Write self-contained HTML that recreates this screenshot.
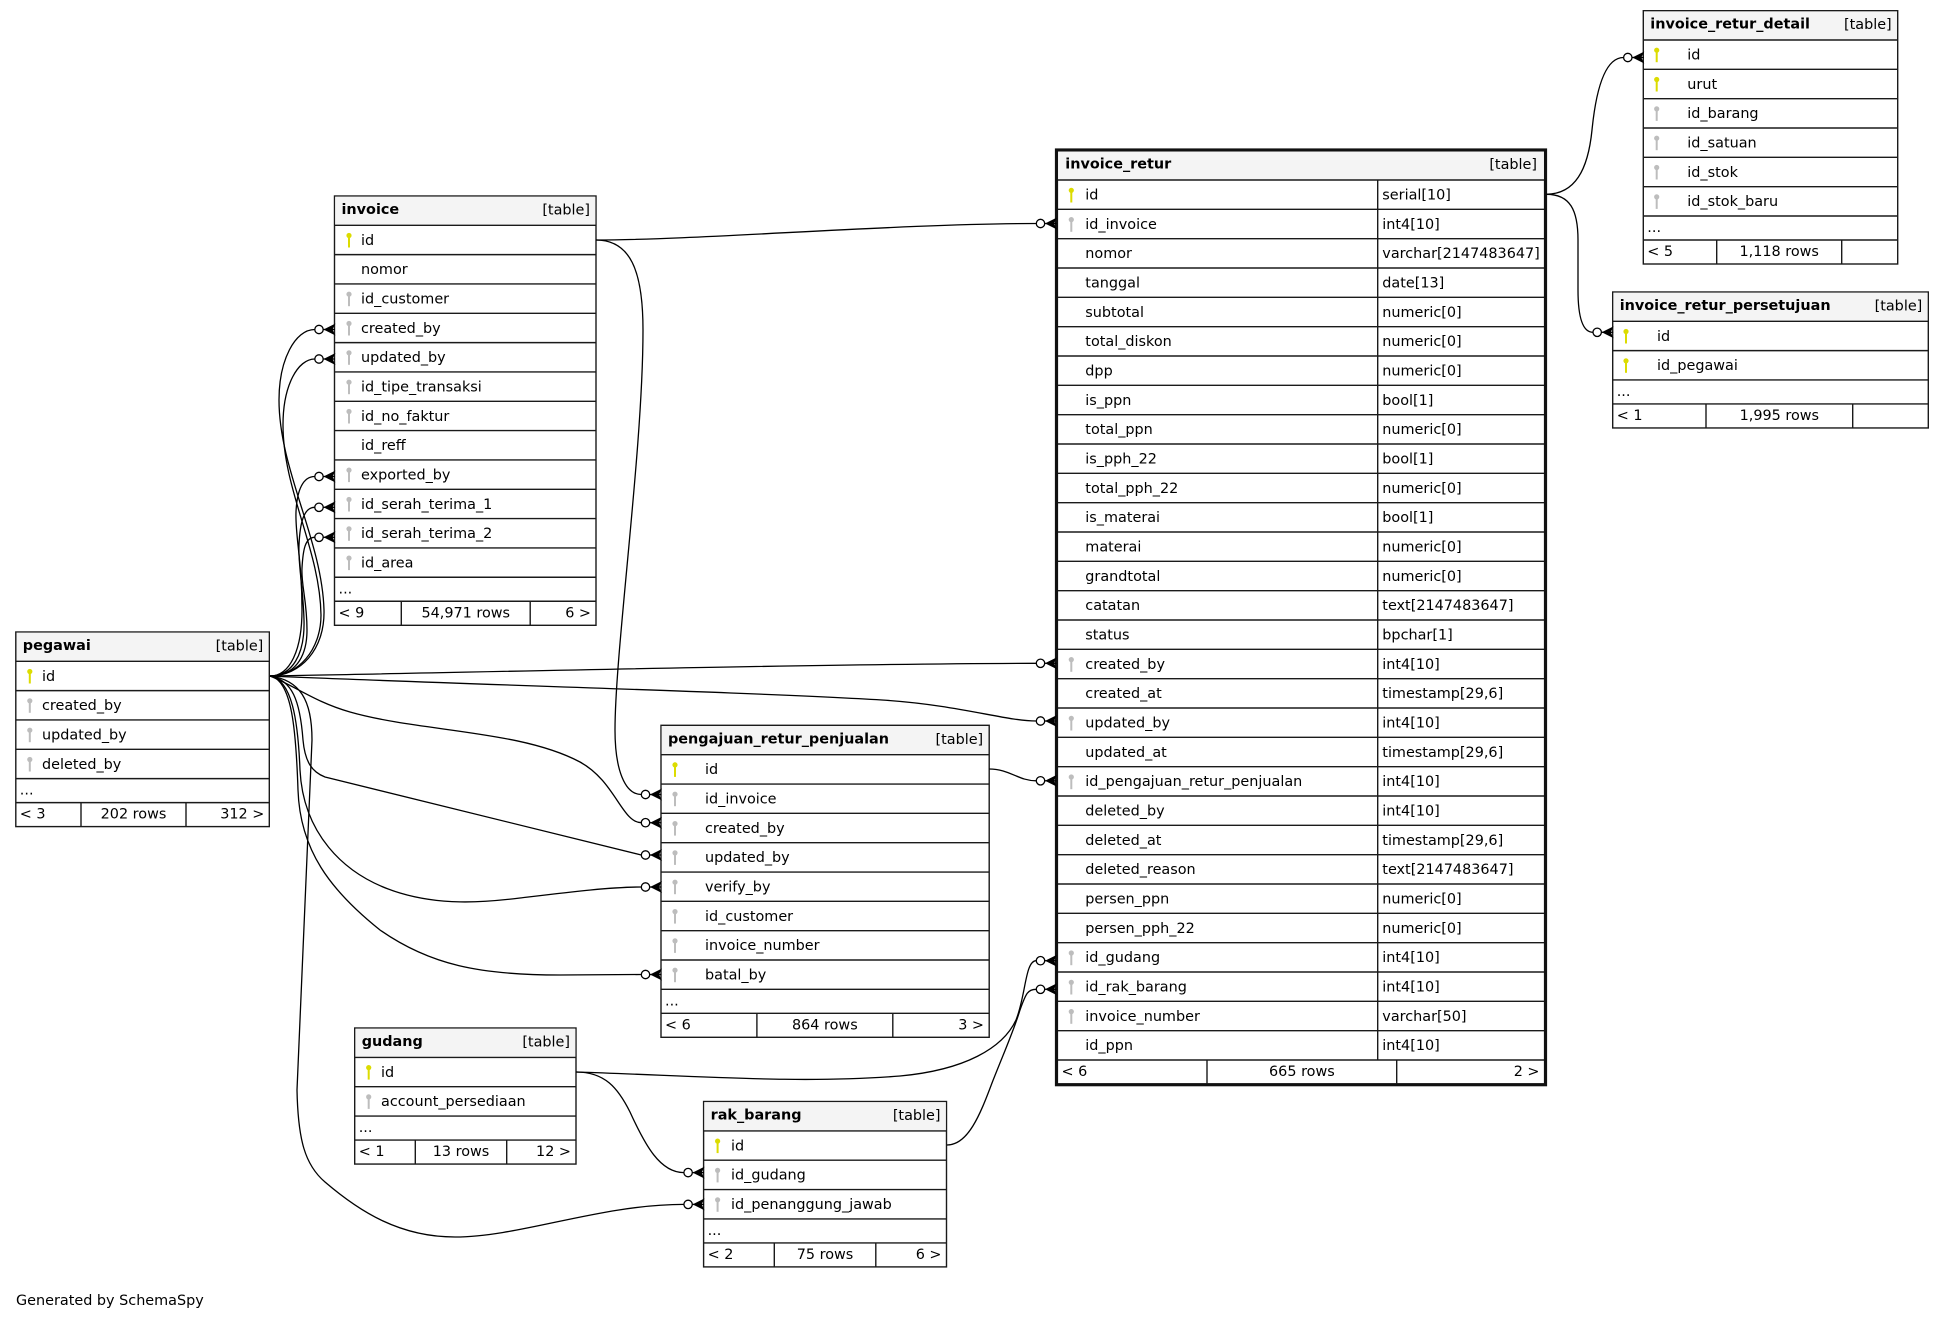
<!DOCTYPE html>
<html><head><meta charset="utf-8"><style>
html,body{margin:0;padding:0;background:#fff;}
svg{display:block;}
text{font-family:"DejaVu Sans","Liberation Sans",sans-serif;font-size:14.4px;fill:#000;}
.b{font-weight:bold;}
.e{text-anchor:end;}
.m{text-anchor:middle;}
.ln{stroke:#1a1a1a;stroke-width:1.4;fill:none;}
.ed{stroke:#000;stroke-width:1.3;fill:none;}
.ci{fill:#fff;stroke:#000;stroke-width:1.3;}
.y{fill:#dcdc00;}
.g{fill:#bdbdbd;}
</style></head><body>
<svg width="1944" height="1321" viewBox="0 0 1944 1321" xmlns="http://www.w3.org/2000/svg">

<!-- ===== invoice ===== -->
<rect x="334.5" y="196" width="261.5" height="429.3" fill="#fff" stroke="#1a1a1a" stroke-width="1.4"/>
<rect x="335.2" y="196.7" width="260.1" height="28.6" fill="#f4f4f4"/>
<path class="ln" d="M334.5 225.3H596M334.5 254.63H596M334.5 283.96H596M334.5 313.29H596M334.5 342.62H596M334.5 371.95H596M334.5 401.28H596M334.5 430.61H596M334.5 459.94H596M334.5 489.27H596M334.5 518.6H596M334.5 547.93H596M334.5 577.26H596M334.5 601.26H596M401.3 601.26V625.3M530.2 601.26V625.3"/>
<text class="b" x="341.5" y="214">invoice</text><text class="e" x="590" y="214.5">[table]</text>
<g class="y"><circle cx="349" cy="235.5" r="2.6"/><rect x="348" y="236.5" width="2" height="11"/></g>
<g class="g"><circle cx="349" cy="294.2" r="2.6"/><rect x="348" y="295.2" width="2" height="11"/>
<circle cx="349" cy="323.5" r="2.6"/><rect x="348" y="324.5" width="2" height="11"/>
<circle cx="349" cy="352.8" r="2.6"/><rect x="348" y="353.8" width="2" height="11"/>
<circle cx="349" cy="382.2" r="2.6"/><rect x="348" y="383.2" width="2" height="11"/>
<circle cx="349" cy="411.5" r="2.6"/><rect x="348" y="412.5" width="2" height="11"/>
<circle cx="349" cy="470.1" r="2.6"/><rect x="348" y="471.1" width="2" height="11"/>
<circle cx="349" cy="499.5" r="2.6"/><rect x="348" y="500.5" width="2" height="11"/>
<circle cx="349" cy="528.8" r="2.6"/><rect x="348" y="529.8" width="2" height="11"/>
<circle cx="349" cy="558.1" r="2.6"/><rect x="348" y="559.1" width="2" height="11"/></g>
<text x="361" y="244.8">id</text>
<text x="361" y="274.1">nomor</text>
<text x="361" y="303.5">id_customer</text>
<text x="361" y="332.8">created_by</text>
<text x="361" y="362.1">updated_by</text>
<text x="361" y="391.5">id_tipe_transaksi</text>
<text x="361" y="420.8">id_no_faktur</text>
<text x="361" y="450.1">id_reff</text>
<text x="361" y="479.4">exported_by</text>
<text x="361" y="508.8">id_serah_terima_1</text>
<text x="361" y="538.1">id_serah_terima_2</text>
<text x="361" y="567.4">id_area</text>
<text x="338.5" y="593.3">...</text>
<text x="338.5" y="617.3">&lt; 9</text><text class="m" x="465.75" y="617.3">54,971 rows</text><text class="e" x="591" y="617.3">6 &gt;</text>

<!-- ===== pegawai ===== -->
<rect x="15.8" y="632" width="253.5" height="194.6" fill="#fff" stroke="#1a1a1a" stroke-width="1.4"/>
<rect x="16.5" y="632.7" width="252.1" height="28.6" fill="#f4f4f4"/>
<path class="ln" d="M15.8 661.3H269.3M15.8 690.63H269.3M15.8 719.96H269.3M15.8 749.29H269.3M15.8 778.62H269.3M15.8 802.62H269.3M81 802.62V826.6M186 802.62V826.6"/>
<text class="b" x="22.8" y="650">pegawai</text><text class="e" x="263.3" y="650.5">[table]</text>
<g class="y"><circle cx="29.8" cy="671.5" r="2.6"/><rect x="28.8" y="672.5" width="2" height="11"/></g>
<g class="g"><circle cx="29.8" cy="700.8" r="2.6"/><rect x="28.8" y="701.8" width="2" height="11"/>
<circle cx="29.8" cy="730.2" r="2.6"/><rect x="28.8" y="731.2" width="2" height="11"/>
<circle cx="29.8" cy="759.5" r="2.6"/><rect x="28.8" y="760.5" width="2" height="11"/></g>
<text x="42" y="680.8">id</text>
<text x="42" y="710.1">created_by</text>
<text x="42" y="739.5">updated_by</text>
<text x="42" y="768.8">deleted_by</text>
<text x="19.8" y="794.6">...</text>
<text x="19.8" y="818.6">&lt; 3</text><text class="m" x="133.5" y="818.6">202 rows</text><text class="e" x="264.3" y="818.6">312 &gt;</text>

<!-- ===== pengajuan_retur_penjualan ===== -->
<rect x="661" y="725.3" width="328.2" height="312" fill="#fff" stroke="#1a1a1a" stroke-width="1.4"/>
<rect x="661.7" y="726" width="326.8" height="28.7" fill="#f4f4f4"/>
<path class="ln" d="M661 754.7H989.2M661 784.03H989.2M661 813.36H989.2M661 842.69H989.2M661 872.02H989.2M661 901.35H989.2M661 930.68H989.2M661 960.01H989.2M661 989.34H989.2M661 1013.34H989.2M756.9 1013.34V1037.3M892.8 1013.34V1037.3"/>
<text class="b" x="668" y="743.3">pengajuan_retur_penjualan</text><text class="e" x="983.2" y="743.8">[table]</text>
<g class="y"><circle cx="675" cy="764.9" r="2.6"/><rect x="674" y="765.9" width="2" height="11"/></g>
<g class="g"><circle cx="675" cy="794.2" r="2.6"/><rect x="674" y="795.2" width="2" height="11"/>
<circle cx="675" cy="823.6" r="2.6"/><rect x="674" y="824.6" width="2" height="11"/>
<circle cx="675" cy="852.9" r="2.6"/><rect x="674" y="853.9" width="2" height="11"/>
<circle cx="675" cy="882.2" r="2.6"/><rect x="674" y="883.2" width="2" height="11"/>
<circle cx="675" cy="911.6" r="2.6"/><rect x="674" y="912.6" width="2" height="11"/>
<circle cx="675" cy="940.9" r="2.6"/><rect x="674" y="941.9" width="2" height="11"/>
<circle cx="675" cy="970.2" r="2.6"/><rect x="674" y="971.2" width="2" height="11"/></g>
<text x="705" y="774.2">id</text>
<text x="705" y="803.5">id_invoice</text>
<text x="705" y="832.9">created_by</text>
<text x="705" y="862.2">updated_by</text>
<text x="705" y="891.5">verify_by</text>
<text x="705" y="920.9">id_customer</text>
<text x="705" y="950.2">invoice_number</text>
<text x="705" y="979.5">batal_by</text>
<text x="665" y="1005.3">...</text>
<text x="665" y="1029.3">&lt; 6</text><text class="m" x="824.85" y="1029.3">864 rows</text><text class="e" x="984" y="1029.3">3 &gt;</text>

<!-- ===== gudang ===== -->
<rect x="354.7" y="1028" width="221.3" height="136.06" fill="#fff" stroke="#1a1a1a" stroke-width="1.4"/>
<rect x="355.4" y="1028.7" width="219.9" height="28.7" fill="#f4f4f4"/>
<path class="ln" d="M354.7 1057.4H576M354.7 1086.73H576M354.7 1116.06H576M354.7 1140.06H576M415.3 1140.06V1164M506.7 1140.06V1164"/>
<text class="b" x="361.7" y="1046">gudang</text><text class="e" x="570" y="1046.5">[table]</text>
<g class="y"><circle cx="368.7" cy="1067.6" r="2.6"/><rect x="367.7" y="1068.6" width="2" height="11"/></g>
<g class="g"><circle cx="368.7" cy="1096.9" r="2.6"/><rect x="367.7" y="1097.9" width="2" height="11"/></g>
<text x="381" y="1076.9">id</text>
<text x="381" y="1106.2">account_persediaan</text>
<text x="358.7" y="1132.1">...</text>
<text x="358.7" y="1156.1">&lt; 1</text><text class="m" x="461" y="1156.1">13 rows</text><text class="e" x="571" y="1156.1">12 &gt;</text>

<!-- ===== rak_barang ===== -->
<rect x="703.6" y="1101.5" width="242.9" height="165.4" fill="#fff" stroke="#1a1a1a" stroke-width="1.4"/>
<rect x="704.3" y="1102.2" width="241.5" height="28.7" fill="#f4f4f4"/>
<path class="ln" d="M703.6 1130.9H946.5M703.6 1160.23H946.5M703.6 1189.56H946.5M703.6 1218.89H946.5M703.6 1242.89H946.5M774.3 1242.89V1266.9M875.8 1242.89V1266.9"/>
<text class="b" x="710.6" y="1119.5">rak_barang</text><text class="e" x="940.5" y="1120">[table]</text>
<g class="y"><circle cx="717.6" cy="1141.1" r="2.6"/><rect x="716.6" y="1142.1" width="2" height="11"/></g>
<g class="g"><circle cx="717.6" cy="1170.4" r="2.6"/><rect x="716.6" y="1171.4" width="2" height="11"/>
<circle cx="717.6" cy="1199.8" r="2.6"/><rect x="716.6" y="1200.8" width="2" height="11"/></g>
<text x="731" y="1150.4">id</text>
<text x="731" y="1179.7">id_gudang</text>
<text x="731" y="1209.1">id_penanggung_jawab</text>
<text x="707.6" y="1234.9">...</text>
<text x="707.6" y="1258.9">&lt; 2</text><text class="m" x="825" y="1258.9">75 rows</text><text class="e" x="941.5" y="1258.9">6 &gt;</text>

<!-- ===== invoice_retur ===== -->
<rect x="1056.5" y="150" width="489" height="934.7" fill="#fff" stroke="#111" stroke-width="3.2"/>
<rect x="1058.1" y="151.6" width="485.8" height="28.4" fill="#f4f4f4"/>
<path class="ln" d="M1058 180H1544M1058 209.33H1544M1058 238.67H1544M1058 268H1544M1058 297.33H1544M1058 326.67H1544M1058 356H1544M1058 385.33H1544M1058 414.67H1544M1058 444H1544M1058 473.33H1544M1058 502.67H1544M1058 532H1544M1058 561.33H1544M1058 590.67H1544M1058 620H1544M1058 649.33H1544M1058 678.67H1544M1058 708H1544M1058 737.33H1544M1058 766.67H1544M1058 796H1544M1058 825.33H1544M1058 854.67H1544M1058 884H1544M1058 913.33H1544M1058 942.67H1544M1058 972H1544M1058 1001.33H1544M1058 1030.67H1544M1058 1060H1544M1377.7 180V1060M1207 1060V1084M1396.7 1060V1084"/>
<text class="b" x="1065.3" y="168.5">invoice_retur</text><text class="e" x="1537" y="169">[table]</text>
<g class="y"><circle cx="1071.3" cy="190.3" r="2.6"/><rect x="1070.3" y="191.3" width="2" height="11.2"/></g>
<g class="g"><circle cx="1071.3" cy="219.6" r="2.6"/><rect x="1070.3" y="220.6" width="2" height="11.2"/>
<circle cx="1071.3" cy="659.6" r="2.6"/><rect x="1070.3" y="660.6" width="2" height="11.2"/>
<circle cx="1071.3" cy="718.3" r="2.6"/><rect x="1070.3" y="719.3" width="2" height="11.2"/>
<circle cx="1071.3" cy="777" r="2.6"/><rect x="1070.3" y="778" width="2" height="11.2"/>
<circle cx="1071.3" cy="953" r="2.6"/><rect x="1070.3" y="954" width="2" height="11.2"/>
<circle cx="1071.3" cy="982.3" r="2.6"/><rect x="1070.3" y="983.3" width="2" height="11.2"/>
<circle cx="1071.3" cy="1011.6" r="2.6"/><rect x="1070.3" y="1012.6" width="2" height="11.2"/></g>
<text x="1085.3" y="199.5">id</text><text x="1382.3" y="199.5">serial[10]</text>
<text x="1085.3" y="228.83">id_invoice</text><text x="1382.3" y="228.83">int4[10]</text>
<text x="1085.3" y="258.17">nomor</text><text x="1382.3" y="258.17">varchar[2147483647]</text>
<text x="1085.3" y="287.5">tanggal</text><text x="1382.3" y="287.5">date[13]</text>
<text x="1085.3" y="316.83">subtotal</text><text x="1382.3" y="316.83">numeric[0]</text>
<text x="1085.3" y="346.17">total_diskon</text><text x="1382.3" y="346.17">numeric[0]</text>
<text x="1085.3" y="375.5">dpp</text><text x="1382.3" y="375.5">numeric[0]</text>
<text x="1085.3" y="404.83">is_ppn</text><text x="1382.3" y="404.83">bool[1]</text>
<text x="1085.3" y="434.17">total_ppn</text><text x="1382.3" y="434.17">numeric[0]</text>
<text x="1085.3" y="463.5">is_pph_22</text><text x="1382.3" y="463.5">bool[1]</text>
<text x="1085.3" y="492.83">total_pph_22</text><text x="1382.3" y="492.83">numeric[0]</text>
<text x="1085.3" y="522.17">is_materai</text><text x="1382.3" y="522.17">bool[1]</text>
<text x="1085.3" y="551.5">materai</text><text x="1382.3" y="551.5">numeric[0]</text>
<text x="1085.3" y="580.83">grandtotal</text><text x="1382.3" y="580.83">numeric[0]</text>
<text x="1085.3" y="610.17">catatan</text><text x="1382.3" y="610.17">text[2147483647]</text>
<text x="1085.3" y="639.5">status</text><text x="1382.3" y="639.5">bpchar[1]</text>
<text x="1085.3" y="668.83">created_by</text><text x="1382.3" y="668.83">int4[10]</text>
<text x="1085.3" y="698.17">created_at</text><text x="1382.3" y="698.17">timestamp[29,6]</text>
<text x="1085.3" y="727.5">updated_by</text><text x="1382.3" y="727.5">int4[10]</text>
<text x="1085.3" y="756.83">updated_at</text><text x="1382.3" y="756.83">timestamp[29,6]</text>
<text x="1085.3" y="786.17">id_pengajuan_retur_penjualan</text><text x="1382.3" y="786.17">int4[10]</text>
<text x="1085.3" y="815.5">deleted_by</text><text x="1382.3" y="815.5">int4[10]</text>
<text x="1085.3" y="844.83">deleted_at</text><text x="1382.3" y="844.83">timestamp[29,6]</text>
<text x="1085.3" y="874.17">deleted_reason</text><text x="1382.3" y="874.17">text[2147483647]</text>
<text x="1085.3" y="903.5">persen_ppn</text><text x="1382.3" y="903.5">numeric[0]</text>
<text x="1085.3" y="932.83">persen_pph_22</text><text x="1382.3" y="932.83">numeric[0]</text>
<text x="1085.3" y="962.17">id_gudang</text><text x="1382.3" y="962.17">int4[10]</text>
<text x="1085.3" y="991.5">id_rak_barang</text><text x="1382.3" y="991.5">int4[10]</text>
<text x="1085.3" y="1020.83">invoice_number</text><text x="1382.3" y="1020.83">varchar[50]</text>
<text x="1085.3" y="1050.17">id_ppn</text><text x="1382.3" y="1050.17">int4[10]</text>
<text x="1061.5" y="1076">&lt; 6</text><text class="m" x="1301.9" y="1076">665 rows</text><text class="e" x="1539.5" y="1076">2 &gt;</text>

<!-- ===== invoice_retur_detail ===== -->
<rect x="1643.3" y="10.7" width="254.4" height="253.3" fill="#fff" stroke="#1a1a1a" stroke-width="1.4"/>
<rect x="1644" y="11.4" width="253" height="28.6" fill="#f4f4f4"/>
<path class="ln" d="M1643.3 40H1897.7M1643.3 69.33H1897.7M1643.3 98.67H1897.7M1643.3 128H1897.7M1643.3 157.33H1897.7M1643.3 186.67H1897.7M1643.3 216H1897.7M1643.3 240H1897.7M1716.7 240V264M1841.7 240V264"/>
<text class="b" x="1650.3" y="28.7">invoice_retur_detail</text><text class="e" x="1891.7" y="29.2">[table]</text>
<g class="y"><circle cx="1656.7" cy="50.2" r="2.6"/><rect x="1655.7" y="51.2" width="2" height="11"/>
<circle cx="1656.7" cy="79.5" r="2.6"/><rect x="1655.7" y="80.5" width="2" height="11"/></g>
<g class="g"><circle cx="1656.7" cy="108.9" r="2.6"/><rect x="1655.7" y="109.9" width="2" height="11"/>
<circle cx="1656.7" cy="138.2" r="2.6"/><rect x="1655.7" y="139.2" width="2" height="11"/>
<circle cx="1656.7" cy="167.5" r="2.6"/><rect x="1655.7" y="168.5" width="2" height="11"/>
<circle cx="1656.7" cy="196.9" r="2.6"/><rect x="1655.7" y="197.9" width="2" height="11"/></g>
<text x="1687.3" y="59.5">id</text>
<text x="1687.3" y="88.83">urut</text>
<text x="1687.3" y="118.17">id_barang</text>
<text x="1687.3" y="147.5">id_satuan</text>
<text x="1687.3" y="176.83">id_stok</text>
<text x="1687.3" y="206.17">id_stok_baru</text>
<text x="1647.3" y="232">...</text>
<text x="1647.3" y="256">&lt; 5</text><text class="m" x="1779.2" y="256">1,118 rows</text>

<!-- ===== invoice_retur_persetujuan ===== -->
<rect x="1612.7" y="292" width="315.6" height="135.96" fill="#fff" stroke="#1a1a1a" stroke-width="1.4"/>
<rect x="1613.4" y="292.7" width="314.2" height="28.6" fill="#f4f4f4"/>
<path class="ln" d="M1612.7 321.3H1928.3M1612.7 350.63H1928.3M1612.7 379.96H1928.3M1612.7 403.96H1928.3M1706 403.96V428M1852.7 403.96V428"/>
<text class="b" x="1619.7" y="310">invoice_retur_persetujuan</text><text class="e" x="1922.3" y="310.5">[table]</text>
<g class="y"><circle cx="1626" cy="331.5" r="2.6"/><rect x="1625" y="332.5" width="2" height="11"/>
<circle cx="1626" cy="360.8" r="2.6"/><rect x="1625" y="361.8" width="2" height="11"/></g>
<text x="1657" y="340.8">id</text>
<text x="1657" y="370.1">id_pegawai</text>
<text x="1616.7" y="396">...</text>
<text x="1616.7" y="420">&lt; 1</text><text class="m" x="1779.35" y="420">1,995 rows</text>

<!-- ===== edges ===== -->
<path class="ed" d="M596,240 C700,240 900,223.5 1036.3,223.5"/>
<path class="ed" d="M596,240 C630,240 643,270 643,330 C643,450 615,650 615,730 C615,770 625,794.5 641.3,794.5"/>
<path class="ed" d="M270,676 C300,676 325,650 324,610 C322,540 279,470 279,400 C279,360 295,329.5 314.8,329.5"/>
<path class="ed" d="M270,676 C298,676 321,650 321,615 C320,550 283,490 283,425 C283,385 298,359 314.8,359"/>
<path class="ed" d="M270,676 C290,676 302,650 302,610 C302,560 295,535 296,512 C297,490 303,476.5 314.8,476.5"/>
<path class="ed" d="M270,676 C292,676 305,655 304,620 C303,585 298,565 299,545 C300,522 304,507.3 314.8,507.3"/>
<path class="ed" d="M270,676 C294,676 307,658 307,630 C307,600 301,585 302,568 C303,550 305,537.3 314.8,537.3"/>
<path class="ed" d="M270,676 C450,673 800,664 1036.3,663.3"/>
<path class="ed" d="M270,676 C450,684 750,692 882,700 C960,705 1005,721 1036.3,721"/>
<path class="ed" d="M270,676 C295,686 315,702 350,712 C420,732 520,730 580,762 C615,781 622,822.7 641.3,822.7"/>
<path class="ed" d="M270,676 C292,680 300,700 303,740 C305,762 312,772 325,777 L641.3,855"/>
<path class="ed" d="M270,676 C292,680 298,720 300,770 C303,830 340,875 400,893 C440,905 480,903 520,898 C570,892 610,887 641.3,887"/>
<path class="ed" d="M270,676 C292,680 296,730 298,790 C300,850 330,890 380,930 C430,965 480,975 560,975 L641.3,974.5"/>
<path class="ed" d="M270,676 C300,680 312,700 312,740 L297,1090 C298,1140 305,1165 325,1182 C360,1212 400,1237 455,1237 C520,1237 600,1204.4 683.9,1204.4"/>
<path class="ed" d="M576,1072 C700,1076 800,1084 900,1076 C965,1070 1003,1048 1016,1020 C1026,995 1025,960.7 1036.3,960.7"/>
<path class="ed" d="M576,1072 C605,1072 618,1088 630,1112 C645,1145 660,1172.6 683.9,1172.6"/>
<path class="ed" d="M947,1145 C968,1145 980,1115 992,1083 C1005,1050 1014,1030 1020,1010 C1026,993 1028,989.3 1036.3,989.3"/>
<path class="ed" d="M989.2,769 C1010,769 1018,780.8 1036.3,780.8"/>
<path class="ed" d="M1546.5,194.3 C1575,194 1588,170 1592,130 C1596,90 1605,57.5 1623.6,57.5"/>
<path class="ed" d="M1546.5,194.3 C1570,194.3 1578,210 1578,240 L1578,290 C1578,315 1582,332.3 1593,332.3"/>

<!-- ===== arrowheads (crow + odot) ===== -->
<g>
<!-- invoice ex=334.5 -->
<circle class="ci" cx="319" cy="329.5" r="4.2"/><path class="ed" d="M323.2 329.5H335"/><path d="M323.5 329.5L335.5 323.5L332.5 329.5L335.5 335.5Z"/>
<circle class="ci" cx="319" cy="359" r="4.2"/><path class="ed" d="M323.2 359H335"/><path d="M323.5 359L335.5 353L332.5 359L335.5 365Z"/>
<circle class="ci" cx="319" cy="476.5" r="4.2"/><path class="ed" d="M323.2 476.5H335"/><path d="M323.5 476.5L335.5 470.5L332.5 476.5L335.5 482.5Z"/>
<circle class="ci" cx="319" cy="507.3" r="4.2"/><path class="ed" d="M323.2 507.3H335"/><path d="M323.5 507.3L335.5 501.3L332.5 507.3L335.5 513.3Z"/>
<circle class="ci" cx="319" cy="537.3" r="4.2"/><path class="ed" d="M323.2 537.3H335"/><path d="M323.5 537.3L335.5 531.3L332.5 537.3L335.5 543.3Z"/>
<!-- pengajuan ex=661 -->
<circle class="ci" cx="645.5" cy="794.5" r="4.2"/><path class="ed" d="M649.7 794.5H661.5"/><path d="M650 794.5L662 788.5L659 794.5L662 800.5Z"/>
<circle class="ci" cx="645.5" cy="822.7" r="4.2"/><path class="ed" d="M649.7 822.7H661.5"/><path d="M650 822.7L662 816.7L659 822.7L662 828.7Z"/>
<circle class="ci" cx="645.5" cy="855" r="4.2"/><path class="ed" d="M649.7 855H661.5"/><path d="M650 855L662 849L659 855L662 861Z"/>
<circle class="ci" cx="645.5" cy="887" r="4.2"/><path class="ed" d="M649.7 887H661.5"/><path d="M650 887L662 881L659 887L662 893Z"/>
<circle class="ci" cx="645.5" cy="974.5" r="4.2"/><path class="ed" d="M649.7 974.5H661.5"/><path d="M650 974.5L662 968.5L659 974.5L662 980.5Z"/>
<!-- invoice_retur ex=1056 -->
<circle class="ci" cx="1040.5" cy="223.5" r="4.2"/><path class="ed" d="M1044.7 223.5H1056.5"/><path d="M1045 223.5L1057 217.5L1054 223.5L1057 229.5Z"/>
<circle class="ci" cx="1040.5" cy="663.3" r="4.2"/><path class="ed" d="M1044.7 663.3H1056.5"/><path d="M1045 663.3L1057 657.3L1054 663.3L1057 669.3Z"/>
<circle class="ci" cx="1040.5" cy="721" r="4.2"/><path class="ed" d="M1044.7 721H1056.5"/><path d="M1045 721L1057 715L1054 721L1057 727Z"/>
<circle class="ci" cx="1040.5" cy="780.8" r="4.2"/><path class="ed" d="M1044.7 780.8H1056.5"/><path d="M1045 780.8L1057 774.8L1054 780.8L1057 786.8Z"/>
<circle class="ci" cx="1040.5" cy="960.7" r="4.2"/><path class="ed" d="M1044.7 960.7H1056.5"/><path d="M1045 960.7L1057 954.7L1054 960.7L1057 966.7Z"/>
<circle class="ci" cx="1040.5" cy="989.3" r="4.2"/><path class="ed" d="M1044.7 989.3H1056.5"/><path d="M1045 989.3L1057 983.3L1054 989.3L1057 995.3Z"/>
<!-- rak_barang ex=703.6 -->
<circle class="ci" cx="688.1" cy="1172.6" r="4.2"/><path class="ed" d="M692.3 1172.6H704"/><path d="M692.6 1172.6L704.6 1166.6L701.6 1172.6L704.6 1178.6Z"/>
<circle class="ci" cx="688.1" cy="1204.4" r="4.2"/><path class="ed" d="M692.3 1204.4H704"/><path d="M692.6 1204.4L704.6 1198.4L701.6 1204.4L704.6 1210.4Z"/>
<!-- detail ex=1643.3 -->
<circle class="ci" cx="1627.8" cy="57.5" r="4.2"/><path class="ed" d="M1632 57.5H1643.8"/><path d="M1632.3 57.5L1644.3 51.5L1641.3 57.5L1644.3 63.5Z"/>
<!-- persetujuan ex=1612.7 -->
<circle class="ci" cx="1597.2" cy="332.3" r="4.2"/><path class="ed" d="M1601.4 332.3H1613.2"/><path d="M1601.7 332.3L1613.7 326.3L1610.7 332.3L1613.7 338.3Z"/>
</g>

<text x="16" y="1305">Generated by SchemaSpy</text>
</svg>
</body></html>
